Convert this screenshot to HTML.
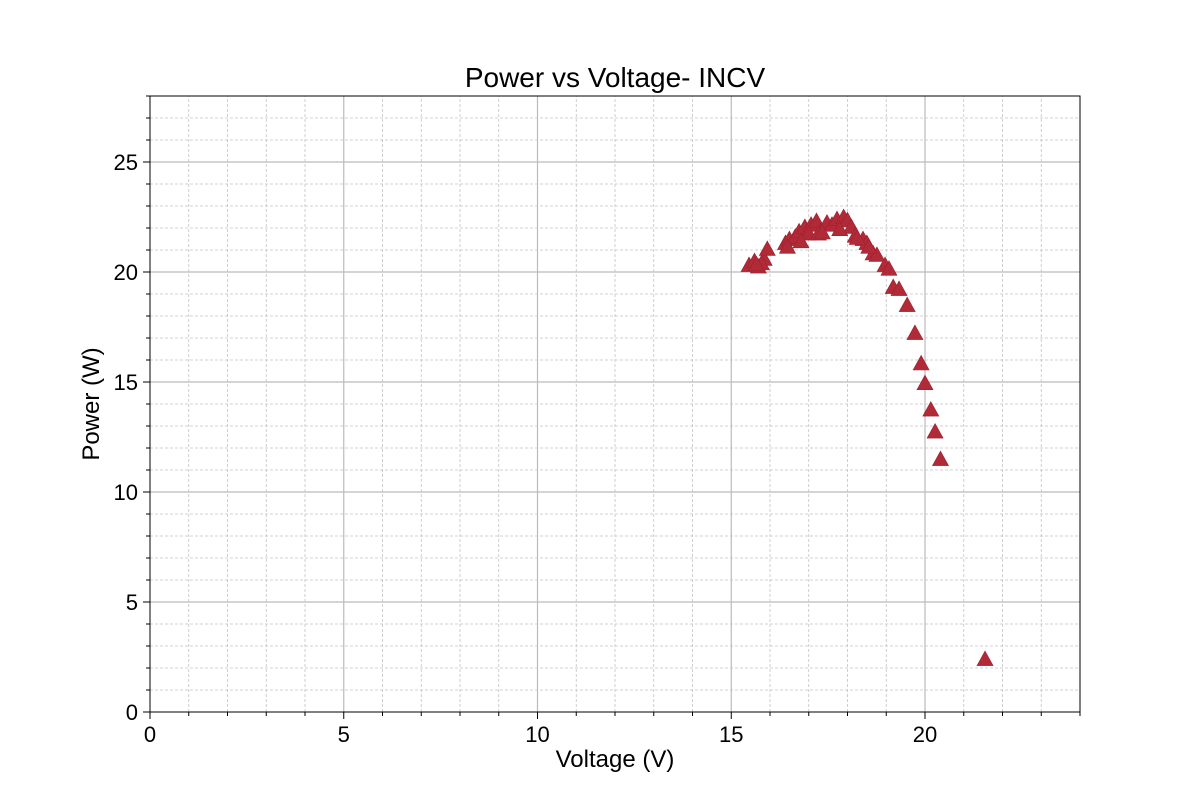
<!DOCTYPE html>
<html><head><meta charset="utf-8"><style>body{margin:0;background:#fff}svg{display:block}text{font-family:"Liberation Sans",sans-serif;fill:#000}</style></head>
<body>
<svg id="c" width="1200" height="800"></svg>
<script>
const voltage=[15.46,15.6,15.7,15.85,15.78,15.93,16.4,16.5,16.65,16.75,16.9,17.06,17.2,17.3,17.47,17.6,17.73,17.9,18.0,18.1,18.2,18.4,18.5,18.66,18.76,18.97,19.07,19.18,19.33,19.54,19.74,19.9,20.0,20.15,20.26,20.4,21.55,16.45,17.0,17.25,17.35,18.25,15.65,16.8,17.8,18.55];
const power=[20.27,20.45,20.2,20.55,20.35,21.0,21.27,21.45,21.55,21.8,22.0,22.1,22.27,21.8,22.2,22.1,22.36,22.45,22.3,22.0,21.6,21.45,21.27,20.8,20.73,20.27,20.1,19.27,19.18,18.45,17.18,15.8,14.9,13.7,12.7,11.45,2.36,21.1,21.7,21.7,21.75,21.5,20.3,21.35,21.9,21.1];
const xTicks=[0,5,10,15,20];
const yTicks=[0,5,10,15,20,25];
const X0=150,X1=1080,Y0=712,Y1=96,XMAX=24,YMAX=28;
const sx=v=>X0+(X1-X0)*v/XMAX, sy=v=>Y0-(Y0-Y1)*v/YMAX;
const svg=document.getElementById('c');const NS='http://www.w3.org/2000/svg';
function mk(t,a,p){const e=document.createElementNS(NS,t);for(const k in a)e.setAttribute(k,a[k]);(p||svg).appendChild(e);return e;}
const g=mk('g',{});
for(let i=1;i<XMAX;i++){if(i%5)mk('line',{x1:sx(i),x2:sx(i),y1:Y0,y2:Y1,stroke:'#c4c4c4','stroke-dasharray':'3,2','stroke-width':0.8},g);}
for(let i=1;i<YMAX;i++){if(i%5)mk('line',{x1:X0,x2:X1,y1:sy(i),y2:sy(i),stroke:'#c4c4c4','stroke-dasharray':'3,2','stroke-width':0.8},g);}
xTicks.forEach(v=>{if(v)mk('line',{x1:sx(v),x2:sx(v),y1:Y0,y2:Y1,stroke:'#bbb','stroke-width':1.2},g);});
yTicks.forEach(v=>{if(v)mk('line',{x1:X0,x2:X1,y1:sy(v),y2:sy(v),stroke:'#bbb','stroke-width':1.2},g);});
const ax=mk('g',{});
for(let i=0;i<=XMAX;i++)mk('line',{x1:sx(i),x2:sx(i),y1:Y0,y2:Y0+(i%5?4:7),stroke:'#000'},ax);
for(let i=0;i<=YMAX;i++)mk('line',{x1:X0,x2:X0-(i%5?4:7),y1:sy(i),y2:sy(i),stroke:'#000'},ax);
xTicks.forEach(v=>{const t=mk('text',{x:sx(v),y:Y0+30,'text-anchor':'middle','font-size':22},ax);t.textContent=v;});
yTicks.forEach(v=>{const t=mk('text',{x:X0-12,y:sy(v)+8,'text-anchor':'end','font-size':22},ax);t.textContent=v;});
mk('rect',{x:X0,y:Y1,width:X1-X0,height:Y0-Y1,fill:'none',stroke:'#000','stroke-width':1},ax);
const pts=mk('g',{});
voltage.forEach((v,i)=>{const x=sx(v),y=sy(power[i]);const p=mk('polygon',{points:`${x},${y-9} ${x-8},${y+5.5} ${x+8},${y+5.5}`,fill:'#b02a37',stroke:'#a02030','stroke-width':0.6},pts);

});
</script>
<div style="position:absolute;left:0;top:0;width:1200px;height:800px;pointer-events:none;font-family:'Liberation Sans',sans-serif">
<div style="position:absolute;top:62px;width:1230px;text-align:center;font-size:28px">Power vs Voltage- INCV</div>
<div style="position:absolute;top:746px;width:1230px;text-align:center;font-size:24px">Voltage (V)</div>
<div style="position:absolute;left:92px;top:404px;transform:translate(-50%,-50%) rotate(-90deg);font-size:24px;white-space:nowrap">Power (W)</div>
</div>
</body></html>
